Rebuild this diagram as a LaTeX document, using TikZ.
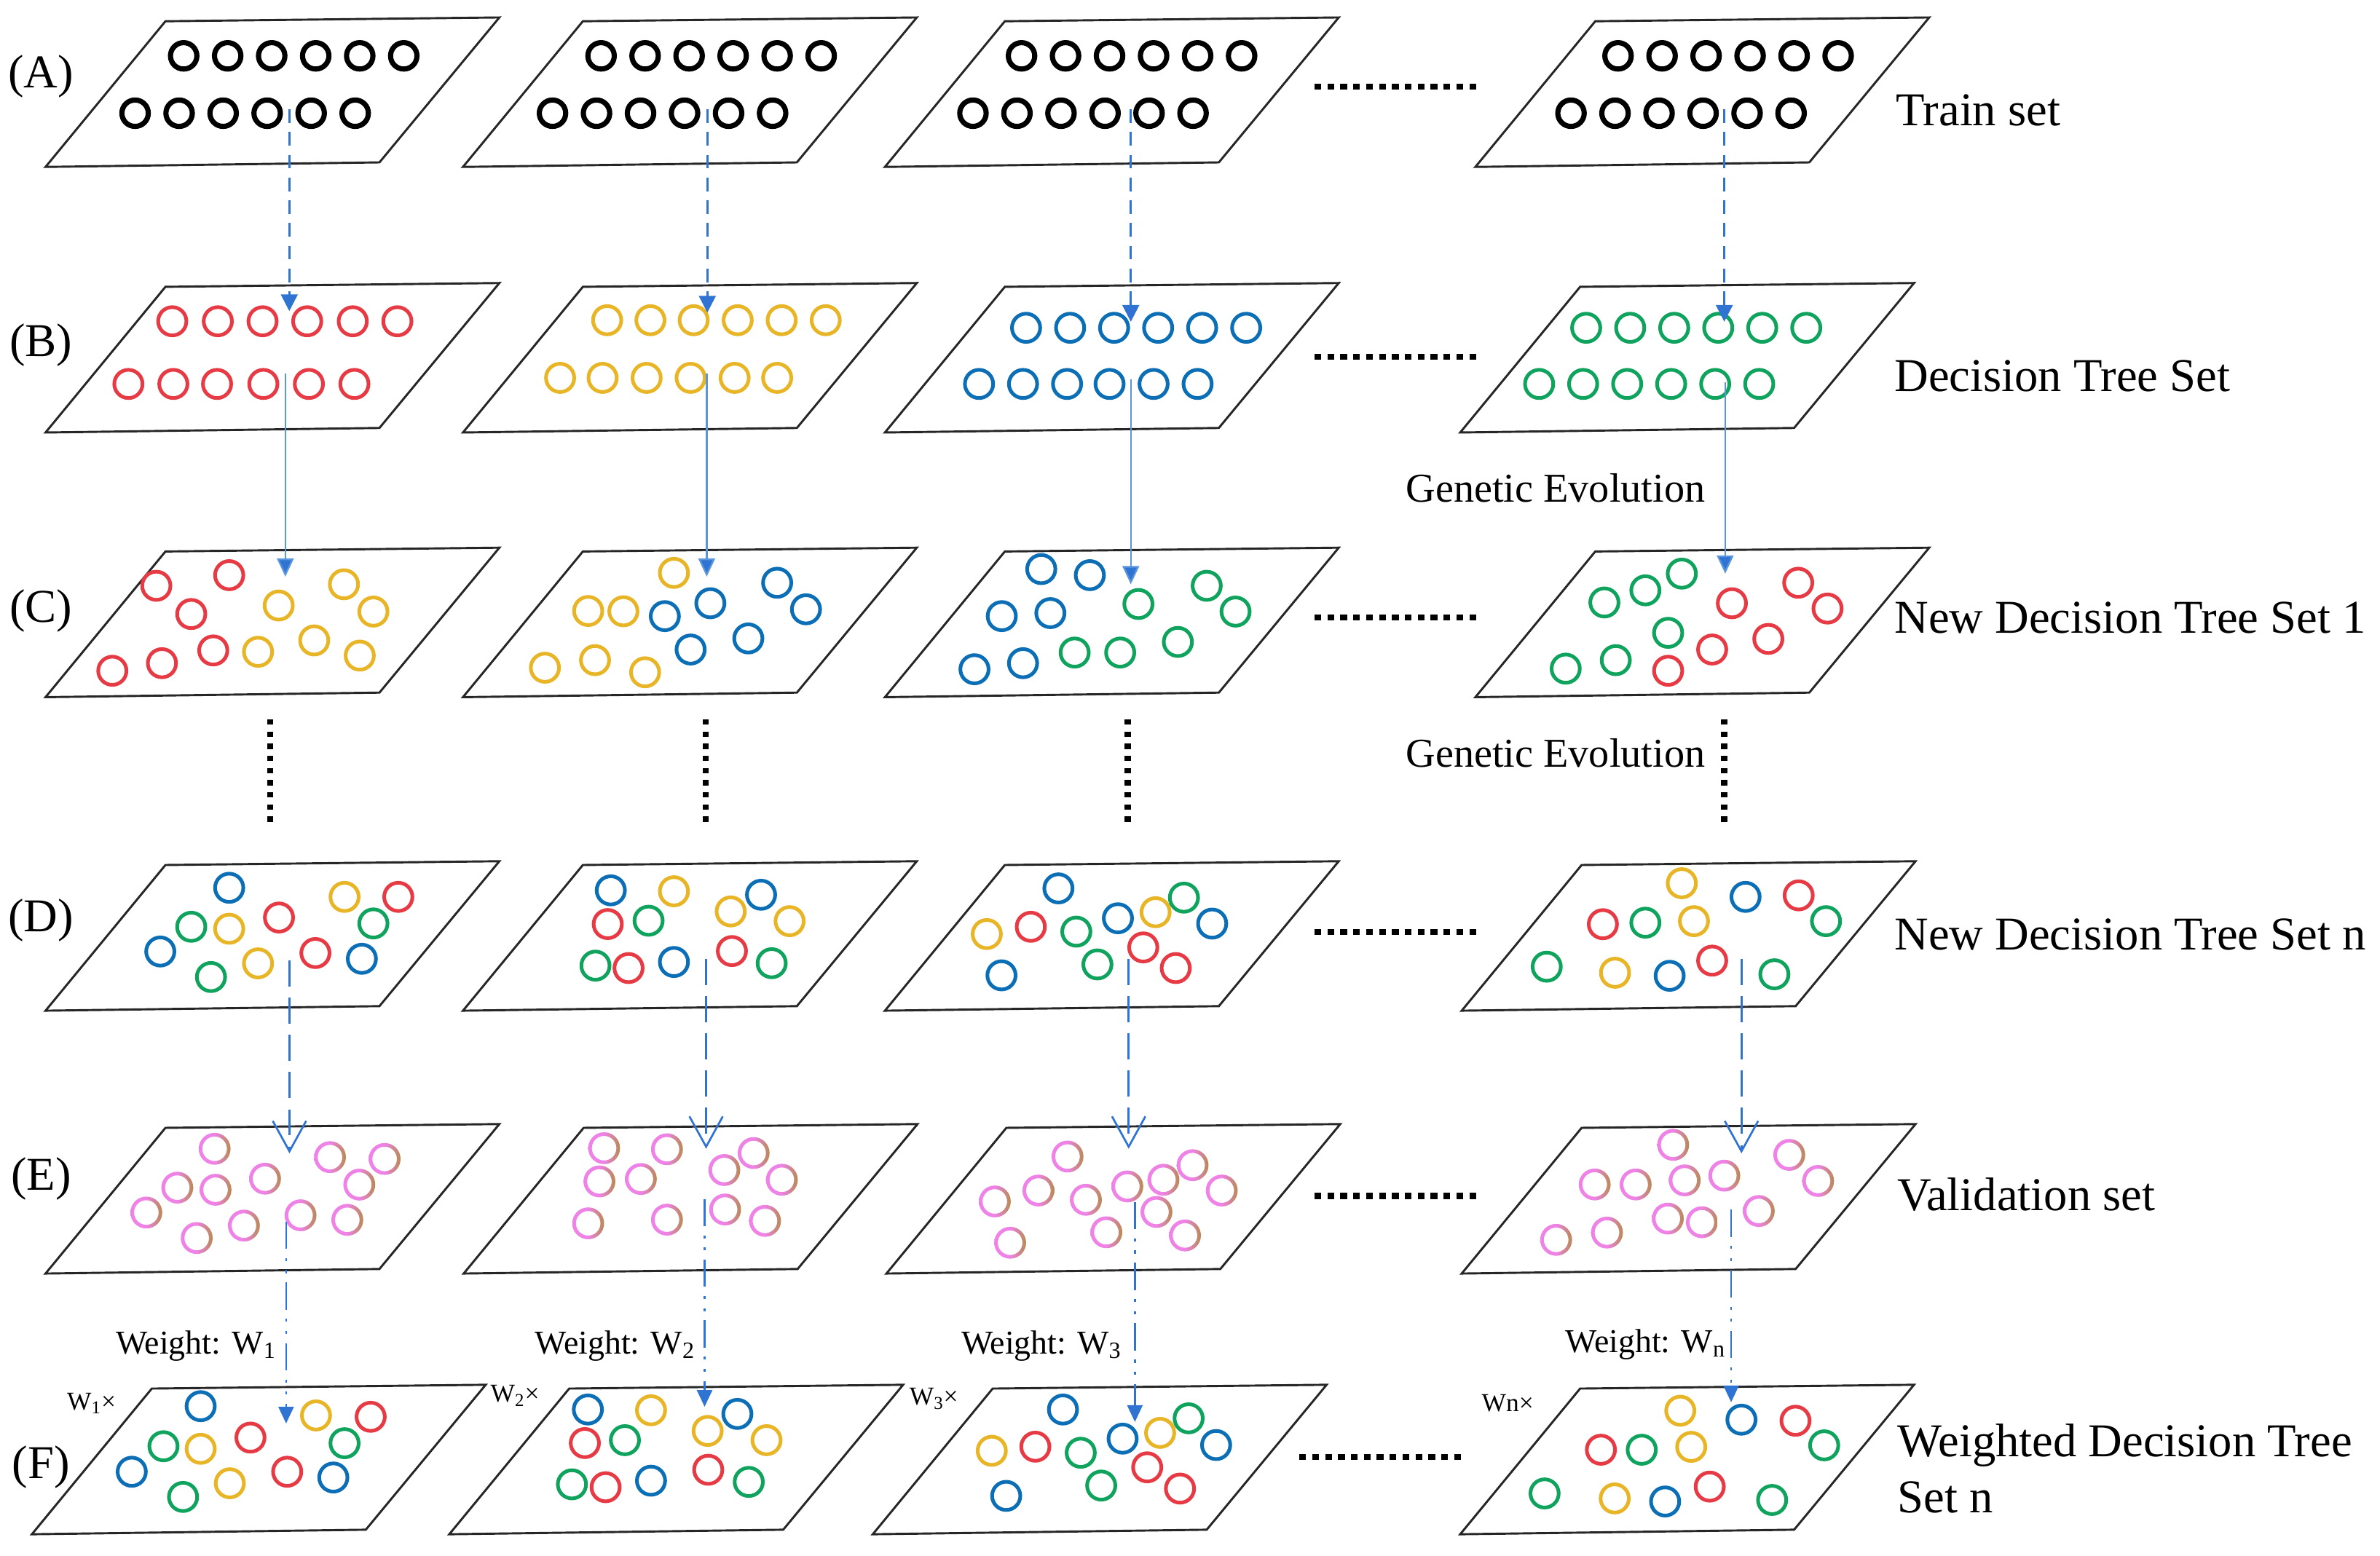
\documentclass[tikz,border=0pt]{standalone}
\usepackage{fontspec}
\setmainfont{Liberation Serif}
\usetikzlibrary{arrows.meta}
\definecolor{cred}{HTML}{E63B45}
\definecolor{cyel}{HTML}{E8B526}
\definecolor{cblu}{HTML}{0C6EB5}
\definecolor{cgrn}{HTML}{10A35E}
\definecolor{cpink}{HTML}{EE82E6}
\definecolor{cbrown}{HTML}{B88A50}
\definecolor{arrblue}{HTML}{2F73D3}
\definecolor{arrlight}{HTML}{5A96DC}
\newcommand\pgram[2]{\draw[planestyle] (#1,#2) -- ++(220,-3) -- ++(79,-95.5) -- ++(-220,2.5) -- cycle;}
\begin{document}
\begin{tikzpicture}[x=1pt,y=-1pt,
  planestyle/.style={draw=black!85, line width=1.4pt, line join=miter},
  blk/.style={draw=black, line width=3.4pt},
  cR/.style={draw=cred, line width=2.4pt},
  cY/.style={draw=cyel, line width=2.4pt},
  cB/.style={draw=cblu, line width=2.4pt},
  cG/.style={draw=cgrn, line width=2.4pt},
  pinkring/.style={even odd rule, left color=cpink, right color=cbrown, middle color=cpink},
  abarrow/.style={draw=arrblue, line width=1.3pt, dash pattern=on 9pt off 6pt, -{Triangle[width=11pt,length=11pt]}},
  bcarrow/.style={draw=arrlight, line width=1.1pt, -{Triangle[width=11pt,length=12pt,fill=arrblue]}},
  dearrow/.style={draw=arrblue, line width=1.3pt, dash pattern=on 17pt off 7.5pt, -{Straight Barb[width=22pt,length=20pt,line width=1.3pt]}},
  efarrow/.style={draw=arrblue, line width=1.3pt, dash pattern=on 18pt off 6pt on 2pt off 6pt on 2pt off 6pt, -{Triangle[width=10pt,length=11pt]}},
  hdots/.style={draw=black, line width=4pt, dash pattern=on 4.5pt off 4pt},
  vdots/.style={draw=black, line width=4pt, dash pattern=on 3.5pt off 4.5pt},
  lab/.style={font=\fontsize{31}{37}\selectfont, inner sep=0pt, anchor=base west},
  rowlab/.style={font=\fontsize{31}{37}\selectfont, inner sep=0pt, anchor=base},
  gen/.style={font=\fontsize{27}{32}\selectfont, inner sep=0pt, anchor=base west},
  wt/.style={font=\fontsize{22}{26}\selectfont, inner sep=0pt, anchor=base east},
  wx/.style={font=\fontsize{17}{20}\selectfont, inner sep=0pt, anchor=base west}]
\fill[white] (0,0) rectangle (1568,1025);
\useasboundingbox (0,0) rectangle (1568,1025);

% ---------- planes ----------
\foreach \x in {30,305,583,972} {\pgram{\x}{110}}
\foreach \x in {30,305,583,962} {\pgram{\x}{285}}
\foreach \x in {30,305,583,972} {\pgram{\x}{459.4}}
\foreach \x in {30,305,583,963} {\pgram{\x}{666}}
\foreach \x in {30,305.5,584,963} {\pgram{\x}{839.2}}
\foreach \x in {21,296,575,962} {\pgram{\x}{1011}}

% ---------- row A ----------
\foreach \x in {121,150,179,208,237,266,396,425,454,483,512,541,673,702,731,760,789,818,1066,1095,1124,1153,1182,1211}
  {\draw[blk] (\x,36.8) circle (8.7pt);}
\foreach \x in {89,118,147,176,205,234,364,393,422,451,480,509,641,670,699,728,757,786,1035,1064,1093,1122,1151,1180}
  {\draw[blk] (\x,74.6) circle (8.7pt);}

% ---------- row B ----------
\foreach \x in {113.5,143.5,173,202.4,232.4,261.8} {\draw[cR] (\x,211.7) circle (9.3pt);}
\foreach \x in {84.6,114.2,143,173.5,203.5,233.5} {\draw[cR] (\x,253) circle (9.3pt);}
\foreach \x in {400,428.5,457,486,515,544} {\draw[cY] (\x,211) circle (9.3pt);}
\foreach \x in {369,397,426,455,484,512} {\draw[cY] (\x,249) circle (9.3pt);}
\foreach \x in {676,705,734,763,792,821} {\draw[cB] (\x,216) circle (9.3pt);}
\foreach \x in {645,674,703,731,760,789} {\draw[cB] (\x,253) circle (9.3pt);}
\foreach \x in {1045,1074,1103,1132,1161,1190} {\draw[cG] (\x,216) circle (9.3pt);}
\foreach \x in {1014,1043,1072,1101,1130,1159} {\draw[cG] (\x,253) circle (9.3pt);}

% ---------- rows C, D, F ----------
\foreach \x/\y in {103/386,151/379,126/404.6,74/442,106.7/437,140.5/428.6,
  1141/397.5,1184.7/384,1204/401,1165/421,1128/428,1099/442,
  183.8/604.6,262.4/591,207.8/628,400.4/608.9,482.2/626.7,414.1/637.9,
  679.1/610.7,753.2/624.3,774.6/637.9,1185/590,1056/609,1128/633,
  165/947.3,244.2/933.6,189.2/969.8,385.3/950.9,466.6/968.5,399/980,
  682.1/953.3,755.8/966.9,777.4/980.9,1182.9/936.2,1054.7/955.3,1126.4/979.6}
  {\draw[cR] (\x,\y) circle (9.3pt);}
\foreach \x/\y in {183.6/399,226.6/385,246/403,207/422,237/432,170/429.5,
  444/377.5,387.5/402.6,410.7/402.8,359/440,392/435,425/443,
  151/612,170/634.8,227/591,444/587.3,481.4/600.6,520.2/607,
  650.1/615.5,761.3/601.1,1108/582,1116/607,1064/641,
  132.2/954.7,151.4/977.4,208.2/932.7,428.9/929.3,466.2/942.9,505/949,
  653.4/956,764.3/944.2,1107/929.6,1114.2/953.4,1063.8/987.4}
  {\draw[cY] (\x,\y) circle (9.3pt);}
\foreach \x/\y in {438/406,468/397.5,512/384,531/401.5,493/420.7,455/428,
  686/375,718/379,660/406,692/404,642/441,674/437,
  151/585,105.6/627,238.4/631.8,402.4/586.7,501.4/589.6,444/633.9,
  697.3/585.4,736.5/605.1,798.6/608.6,659.8/642.7,1150/591,1100/643,
  132.2/926.6,86.8/969.8,219.6/973.6,387.3/928.8,485.8/931.7,428.9/975.7,
  700.3/928.8,739.6/948,801.2/952.2,662.9/985.7,1147.3/935.5,1097/989.4}
  {\draw[cB] (\x,\y) circle (9.3pt);}
\foreach \x/\y in {750/398,795/386,814/403,708/430,738/430,776/423,
  1057/397,1084/389,1108/378,1099/417,1031.5/440.6,1064.5/435,
  126/610.7,139/643.8,246/608.5,427.3/606.7,508.4/634.7,392.3/636.3,
  709.1/613.9,780/591.5,723/635.5,1084/608,1203/607,1019/637,1169/642,
  107.7/953,120.6/986.4,227/951,411.7/949,493.3/976.5,376.8/978.1,
  712/957.3,783.1/934.6,725.5/978.9,1081.6/955.3,1201.8/952.4,1017.6/984.1,1167.5/988.4}
  {\draw[cG] (\x,\y) circle (9.3pt);}

% ---------- row E (validation) ----------
\foreach \x/\y in {141.4/757,116.8/782.6,142/784,174.6/776.7,96.4/799,129.6/815.8,160.7/807.6,
  217.4/762.5,253.4/763.7,236.7/780.6,198/800.8,228.8/803.8,
  398/756.6,439.4/757.3,394.9/778.5,422.2/776.9,496.5/759.8,477.2/771,515.1/777.4,
  387.5/806.1,439.4/803.7,477.7/797,504/804.5,
  703.3/762.1,655.4/791.7,684.1/784.5,715.4/790.6,742.7/781.8,766.5/777.4,785.7/767.8,
  804.9/784.5,761.9/798.6,728.9/812,780.7/814.1,665.5/818.9,
  1102.3/754.4,1050.6/780.5,1077.6/780.5,1109.9/777.8,1136/774.7,1178.8/761,1197.8/778.2,
  1158.7/798,1098.8/803,1121.2/805.4,1058.7/812.2,1025.2/817}
  {\shade[pinkring] (\x,\y) circle (10.5pt) (\x,\y) circle (8.1pt);}

% ---------- arrows ----------
\foreach \n/\x/\ys/\ye in {1/190.6/72/205,2/466/72/206,3/745/72/212,4/1136/72/212}{
  \coordinate (ab\n s) at (\x,\ys); \coordinate (ab\n e) at (\x,\ye);
  \draw[abarrow] (ab\n s) -- (ab\n e);}
\foreach \n/\x/\ys/\ye in {1/188/246/380,2/465.6/246/380,3/745/250/385,4/1136.6/252/378}{
  \coordinate (bc\n s) at (\x,\ys); \coordinate (bc\n e) at (\x,\ye);
  \draw[bcarrow] (bc\n s) -- (bc\n e);}
\foreach \n/\x/\ys/\ye in {1/190.7/633/760,2/465.2/632/757,3/743.6/632/757,4/1147.3/632/760}{
  \coordinate (de\n s) at (\x,\ys); \coordinate (de\n e) at (\x,\ye);
  \draw[dearrow] (de\n s) -- (de\n e);}
\foreach \n/\x/\ys/\ye in {1/188.5/805/938,2/464.2/790/927,3/747.7/792/937,4/1140.5/797/924}{
  \coordinate (ef\n s) at (\x,\ys); \coordinate (ef\n e) at (\x,\ye);
  \draw[efarrow] (ef\n s) -- (ef\n e);}

% ---------- dotted ellipses ----------
\foreach \n/\xa/\xb/\y in {a/866/975/57,b/866/975/235,c/866/975/407,d/866/975/614,e/866/975/788,f/856/966/960}{
  \coordinate (h\n s) at (\xa,\y); \coordinate (h\n e) at (\xb,\y);
  \draw[hdots] (h\n s) -- (h\n e);}
\foreach \n/\x in {1/178,2/465,3/743,4/1136}{
  \coordinate (v\n s) at (\x,474); \coordinate (v\n e) at (\x,542);
  \draw[vdots] (v\n s) -- (v\n e);}

% ---------- labels ----------
\node[rowlab] (lA) at (27,58) {(A)};
\node[rowlab] (lB) at (27,235) {(B)};
\node[rowlab] (lC) at (27,410) {(C)};
\node[rowlab] (lD) at (27,614) {(D)};
\node[rowlab] (lE) at (27,784) {(E)};
\node[rowlab] (lF) at (27,974) {(F)};

\node[lab] (tA) at (1249,83) {Train set};
\node[lab] (tB) at (1248,258) {Decision Tree Set};
\node[lab] (tC) at (1248,417) {New Decision Tree Set 1};
\node[lab] (tD) at (1248,626) {New Decision Tree Set n};
\node[lab] (tE) at (1250,797.6) {Validation set};
\node[lab] (tF1) at (1250,960) {Weighted Decision Tree};
\node[lab] (tF2) at (1250,997) {Set n};

\node[gen] (g1) at (926,331) {Genetic Evolution};
\node[gen] (g2) at (926,505.4) {Genetic Evolution};

\node[wt] (w1) at (182,892) {Weight: W\textsubscript{1}};
\node[wt] (w2) at (458,892) {Weight: W\textsubscript{2}};
\node[wt] (w3) at (739,892) {Weight: W\textsubscript{3}};
\node[wt] (w4) at (1137,891) {Weight: W\textsubscript{n}};

\node[wx] (x1) at (44,929) {W\textsubscript{1}×};
\node[wx] (x2) at (323,924) {W\textsubscript{2}×};
\node[wx] (x3) at (599,926) {W\textsubscript{3}×};
\node[wx] (x4) at (976,930) {Wn×};
\end{tikzpicture}
\end{document}
